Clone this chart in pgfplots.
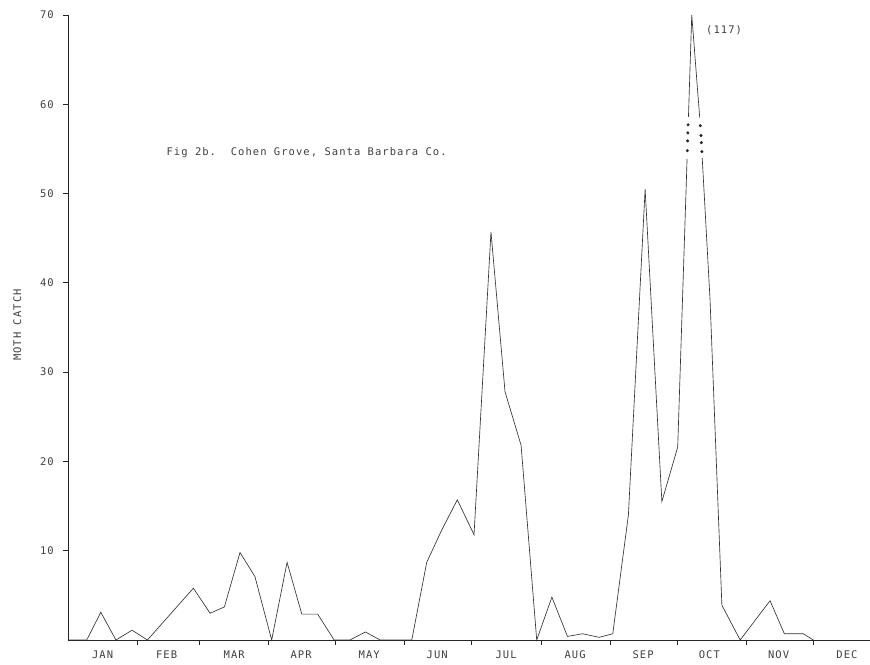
\documentclass[border=0pt]{standalone}
\usepackage{fontspec}
\usepackage{pgfplots}
\pgfplotsset{compat=1.18}
\newfontfamily\tw[LetterSpace=10]{DejaVu Sans Mono}
\newcommand{\lbl}{\tw\fontsize{10.5}{12}\selectfont}

\pgfplotstableread{
day catch
0     0
8.4   0
14.7  3.1
21.5  0
28.7  1.1
35.6  0
56.2  5.8
63.7  3.0
70.1  3.7
77.1  9.8
83.8  7.1
91.3  0
98.2  8.7
104.8 2.9
111.9 2.9
119.3 0
126.4 0
133.3 0.9
139.9 0
154.1 0
160.8 8.7
167.5 12.3
174.5 15.7
182.0 11.8
189.6 45.7
195.9 27.8
203.1 21.8
210.1 0
216.9 4.8
223.9 0.4
230.6 0.7
238.1 0.3
244.2 0.7
251.2 14.0
258.7 50.5
266.2 15.5
273.3 21.6
279.6 70
283.6 57.1
287.8 38.1
293.1 3.9
301.3 0
314.7 4.4
321.1 0.7
329.6 0.7
334.1 0
}\catchdata

\begin{document}
\begin{tikzpicture}
\begin{axis}[
  at={(0pt,0pt)}, anchor=south west,
  scale only axis, width=802pt, height=625pt,
  xmin=0, xmax=359.5, ymin=0, ymax=70,
  axis lines=left,
  axis line style={-, line width=0.9pt, black!85},
  clip=false,
  tick align=outside,
  tick style={line width=0.9pt, black!85},
  major tick length=5pt,
  minor tick length=4.5pt,
  /pgf/number format/assume math mode=true,
  ytick={10,20,...,70},
  yticklabel style={font=\lbl, text=black!75, anchor=east, inner sep=0pt, xshift=-9pt},
  xtick={15.5,44.2,74.5,104.5,135,165.5,196.4,227.3,257.8,287.5,318.5,349.2},
  xticklabels={JAN,FEB,MAR,APR,MAY,JUN,JUL,AUG,SEP,OCT,NOV,DEC},
  minor xtick={31,59,90,120,151,181,212,243,273,304,334},
  major x tick style={draw=none},
  xticklabel style={font=\lbl, text=black!75, anchor=center, inner sep=0pt, yshift=-10pt},
  ylabel={MOTH CATCH},
  ylabel style={font=\lbl, text=black!75, at={(axis description cs:-0.0632,0.504)}, anchor=center, rotate=0},
]
\addplot[black!80, line width=0.65pt] table[x=day, y=catch] {\catchdata};
% break in the truncated October peak
\addplot[white, line width=2.6pt, forget plot] coordinates {(277.5,53.9) (278.12,58.6)};
\addplot[white, line width=2.6pt, forget plot] coordinates {(283.17,58.5) (283.6,57.1) (284.29,54.0)};
\addplot[only marks, mark=*, mark size=1.3pt, black!85] coordinates {
  (277.95,57.7) (277.85,56.8) (277.75,55.9) (277.62,54.8)
  (283.44,57.6) (283.73,56.5) (283.91,55.7) (284.13,54.7)};
\node[font=\lbl, text=black!75, anchor=center] at (axis cs:294.1,68.3) {(117)};
\node[font=\lbl, text=black!75, anchor=west] at (axis cs:42.6,54.6) {Fig 2b.\ \ Cohen Grove, Santa Barbara Co.};
\end{axis}
\pgfresetboundingbox
\useasboundingbox (-68pt,-24pt) rectangle (802pt,640pt);
\end{tikzpicture}
\end{document}
